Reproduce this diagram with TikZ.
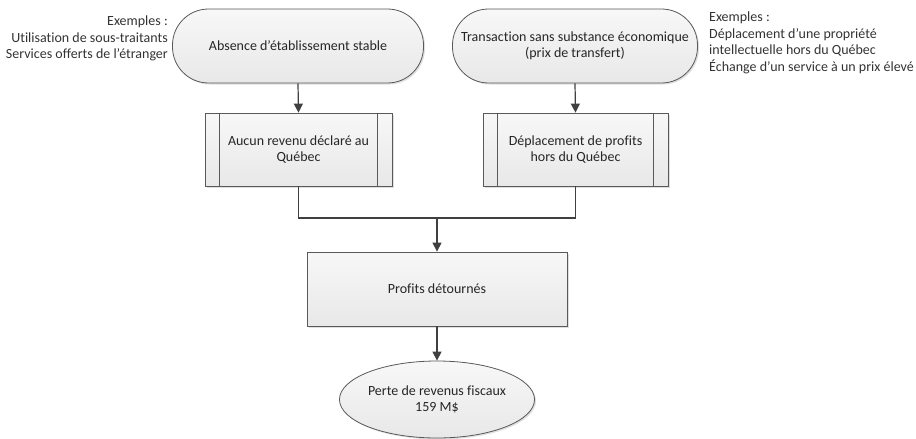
\documentclass[tikz,border=0pt]{standalone}
\usepackage{fontspec}
\setmainfont{Carlito}[Ligatures={NoCommon}]
\usetikzlibrary{shapes.geometric,shadows,arrows.meta}
\begin{document}
\begin{tikzpicture}[x=1pt,y=-1pt,
  every node/.style={font=\fontsize{14}{16.5}\selectfont, text=black!85},
  boxfill/.style={draw=black!65, line width=0.8pt, top color=black!3, bottom color=black!9,
     drop shadow={shadow xshift=1.5pt, shadow yshift=-1.5pt, fill=black!25, opacity=0.5}},
  stadium/.style={boxfill, rounded corners=36pt, minimum width=251pt, minimum height=74pt, align=center, inner sep=0pt},
  subproc/.style={boxfill, rectangle, minimum height=73pt, align=center, inner sep=0pt},
  procbox/.style={boxfill, rectangle, minimum width=260pt, minimum height=74pt, align=center},
  term/.style={boxfill, ellipse, minimum width=188pt, minimum height=77pt, align=center, inner sep=0pt},
  conn/.style={draw=black!75, line width=1.2pt},
  arr/.style={conn, -{Triangle[length=9pt,width=9pt]}},
  note/.style={align=left, inner sep=0pt, text=black!80}
]
\useasboundingbox (0,0) rectangle (916,439);

\node[stadium] (s1) at (298,46) {Absence d’établissement stable};
\node[stadium, minimum width=245pt] (s2) at (575,46) {Transaction sans substance économique\\(prix de transfert)};

\node[subproc, minimum width=187pt] (b1) at (298.5,149.5) {Aucun revenu déclaré au\\Québec};
\draw[draw=black!65, line width=0.8pt] ([xshift=15pt]b1.north west) -- ([xshift=15pt]b1.south west)
  ([xshift=-15pt]b1.north east) -- ([xshift=-15pt]b1.south east);
\node[subproc, minimum width=185pt] (b2) at (575.5,149.5) {Déplacement de profits\\hors du Québec};
\draw[draw=black!65, line width=0.8pt] ([xshift=15pt]b2.north west) -- ([xshift=15pt]b2.south west)
  ([xshift=-15pt]b2.north east) -- ([xshift=-15pt]b2.south east);

\node[procbox] (p) at (437,289) {Profits détournés};
\node[term] (t) at (437,399.5) {Perte de revenus fiscaux\\159 M\$};

\coordinate (j) at (437,218);

\draw[arr] (s1.south) -- (b1.north);
\draw[arr] (s2.south) -- (b2.north);
\draw[conn] (b1.south) |- (j) -| (b2.south);
\draw[arr] (j) -- (p.north);
\draw[arr] (p.south) -- (t.north);

\node[note, align=right, anchor=north east] (n1) at (168,16) {Exemples :\\Utilisation de sous-traitants\\Services offerts de l’étranger};
\node[note, anchor=north west] (n2) at (709,12) {Exemples :\\Déplacement d’une propriété\\intellectuelle hors du Québec\\Échange d’un service à un prix élevé};
\end{tikzpicture}
\end{document}
